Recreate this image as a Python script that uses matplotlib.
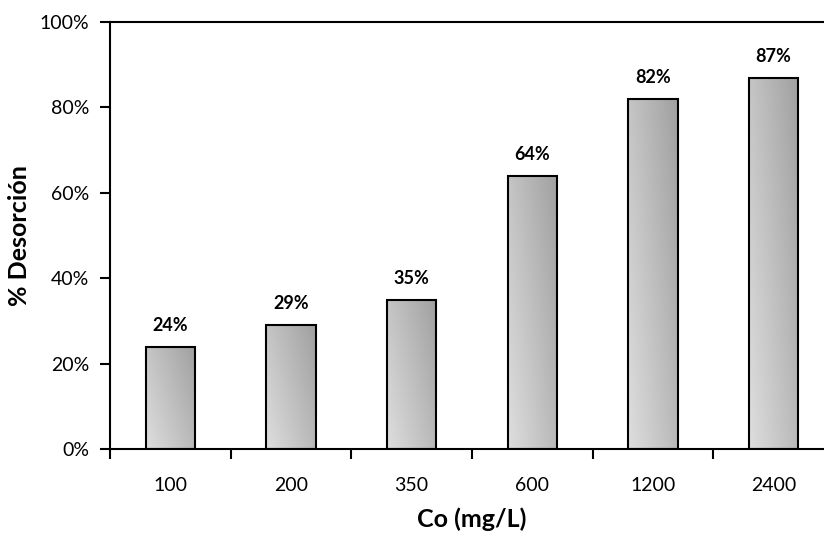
import matplotlib
matplotlib.use("Agg")
import matplotlib.pyplot as plt
import numpy as np
from matplotlib.colors import LinearSegmentedColormap
from matplotlib.ticker import PercentFormatter

plt.rcParams['font.family'] = ['Lato', 'DejaVu Sans']

# Desorción por concentración inicial
concentraciones = ["100", "200", "350", "600", "1200", "2400"]
desorcion = [0.24, 0.29, 0.35, 0.64, 0.82, 0.87]

fig = plt.figure(figsize=(8.24, 5.42), dpi=100)
ax = fig.add_axes([110 / 824, 1 - 449 / 542, 724 / 824, 427 / 542])

x = np.arange(len(concentraciones))
bars = ax.bar(x, desorcion, width=0.41, facecolor="none", edgecolor="black",
              linewidth=1.5, zorder=3)

# relleno degradado gris (claro abajo-izquierda, oscuro arriba-derecha)
grises = LinearSegmentedColormap.from_list("grises", ["#dedede", "#a0a0a0"])
gx, gy = np.meshgrid(np.linspace(0, 1, 64), np.linspace(0, 1, 256))
grad = 0.6 * gx + 0.4 * gy
for b in bars:
    x0, y0 = b.get_x(), b.get_y()
    w, h = b.get_width(), b.get_height()
    im = ax.imshow(grad, cmap=grises, vmin=0, vmax=1, origin="lower",
                   extent=[x0, x0 + w, y0, y0 + h], aspect="auto", zorder=2,
                   interpolation="bilinear")
    im.set_clip_path(b)

for xi, v in zip(x, desorcion):
    ax.text(xi, v + 0.03, f"{v * 100:.0f}%", ha="center", va="bottom",
            fontsize=13, fontweight="bold")

ax.set_xlim(-0.5, len(concentraciones) - 0.5)
ax.set_ylim(0, 1.0)
ax.yaxis.set_major_formatter(PercentFormatter(1.0, decimals=0))
ax.set_yticks(np.arange(0, 1.01, 0.2))

ax.set_xticks(np.arange(-0.5, len(concentraciones), 1.0))
ax.set_xticklabels([])
ax.set_xticks(x, minor=True)
ax.set_xticklabels(concentraciones, minor=True)
ax.tick_params(axis="x", which="major", direction="out", length=7, width=1.5)
ax.tick_params(axis="x", which="minor", length=0, pad=20, labelsize=14)
ax.tick_params(axis="y", direction="out", length=7, width=1.5, labelsize=14, pad=8)

ax.spines["right"].set_visible(False)
for s in ["left", "bottom", "top"]:
    ax.spines[s].set_linewidth(1.5)

ax.set_xlabel("Co (mg/L)", fontsize=18, fontweight="bold", labelpad=10)
ax.set_ylabel("% Desorción", fontsize=18, fontweight="bold", labelpad=6)

fig.savefig("out.png", dpi=100)
